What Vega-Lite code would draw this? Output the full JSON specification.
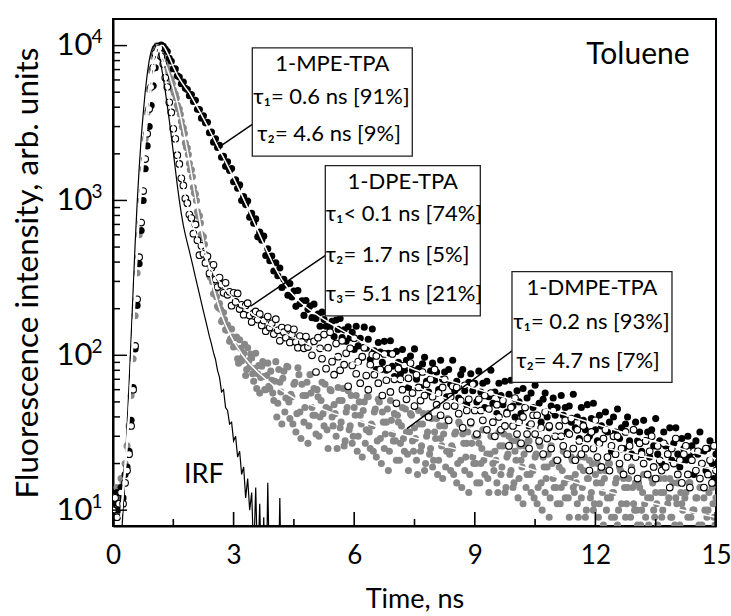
{"width":603,"height":507,"autosize":{"type":"none"},"padding":{"left":113,"top":19,"right":15,"bottom":90},"background":"white",
"config":{"view":{"stroke":"#000","strokeWidth":2},"axis":{"grid":false,"domainColor":"#000","labelColor":"#000","titleColor":"#000","labelFont":"Lato","titleFont":"Lato","titleFontWeight":"normal","labelOverlap":false,"labelFlush":false},"point":{"opacity":1,"size":50},"text":{"font":"Lato","baseline":"alphabetic","color":"#000"}},
"datasets":{
"b":[{"x":0,"y":11},{"x":0.05,"y":9},{"x":0.1,"y":13},{"x":0.15,"y":10},{"x":0.2,"y":14},{"x":0.25,"y":12},{"x":0.3,"y":17},{"x":0.35,"y":19},{"x":0.4,"y":24},{"x":0.45,"y":38},{"x":0.5,"y":62},{"x":0.55,"y":110},{"x":0.6,"y":210},{"x":0.65,"y":390},{"x":0.7,"y":640},{"x":0.75,"y":1000},{"x":0.8,"y":1600},{"x":0.85,"y":2250},{"x":0.9,"y":3000},{"x":0.95,"y":4100},{"x":1,"y":5500},{"x":1.05,"y":7200},{"x":1.1,"y":8700},{"x":1.15,"y":9700},{"x":1.2,"y":10100},{"x":1.25,"y":9900},{"x":1.3,"y":9500},{"x":1.35,"y":9150},{"x":1.4,"y":8280},{"x":1.45,"y":7930},{"x":1.5,"y":7080},{"x":1.55,"y":7070},{"x":1.6,"y":6390},{"x":1.65,"y":6260},{"x":1.7,"y":5670},{"x":1.75,"y":5820},{"x":1.8,"y":5300},{"x":1.85,"y":5200},{"x":1.9,"y":4750},{"x":1.95,"y":4830},{"x":2,"y":4360},{"x":2.05,"y":4430},{"x":2.1,"y":3880},{"x":2.15,"y":3860},{"x":2.2,"y":3400},{"x":2.25,"y":3520},{"x":2.3,"y":3170},{"x":2.35,"y":3200},{"x":2.4,"y":2740},{"x":2.45,"y":2770},{"x":2.5,"y":2380},{"x":2.55,"y":2500},{"x":2.6,"y":2200},{"x":2.65,"y":2270},{"x":2.7,"y":1900},{"x":2.75,"y":1930},{"x":2.8,"y":1660},{"x":2.85,"y":1780},{"x":2.9,"y":1560},{"x":2.95,"y":1610},{"x":3,"y":1320},{"x":3.05,"y":1360},{"x":3.1,"y":1200},{"x":3.15,"y":1260},{"x":3.2,"y":1000},{"x":3.25,"y":1060},{"x":3.3,"y":940},{"x":3.35,"y":990},{"x":3.4,"y":780},{"x":3.45,"y":825},{"x":3.5,"y":713},{"x":3.55,"y":760},{"x":3.6,"y":582},{"x":3.65,"y":624},{"x":3.7,"y":554},{"x":3.75,"y":588},{"x":3.8,"y":441},{"x":3.85,"y":488},{"x":3.9,"y":408},{"x":3.95,"y":437},{"x":4,"y":350},{"x":4.05,"y":396},{"x":4.1,"y":326},{"x":4.15,"y":366},{"x":4.2,"y":274},{"x":4.25,"y":310},{"x":4.3,"y":285},{"x":4.35,"y":244},{"x":4.4,"y":291},{"x":4.45,"y":238},{"x":4.5,"y":260},{"x":4.55,"y":207},{"x":4.6,"y":262},{"x":4.65,"y":215},{"x":4.7,"y":225},{"x":4.75,"y":181},{"x":4.8,"y":226},{"x":4.85,"y":198},{"x":4.9,"y":208},{"x":4.95,"y":175},{"x":5,"y":214},{"x":5.05,"y":173},{"x":5.1,"y":185},{"x":5.15,"y":154},{"x":5.2,"y":190},{"x":5.25,"y":170},{"x":5.3,"y":154},{"x":5.35,"y":190},{"x":5.4,"y":153},{"x":5.45,"y":166},{"x":5.5,"y":132},{"x":5.55,"y":169},{"x":5.6,"y":147},{"x":5.65,"y":173},{"x":5.7,"y":130},{"x":5.75,"y":146},{"x":5.8,"y":123},{"x":5.85,"y":153},{"x":5.9,"y":130},{"x":5.95,"y":141},{"x":6,"y":109},{"x":6.05,"y":154},{"x":6.1,"y":115},{"x":6.15,"y":129},{"x":6.2,"y":97},{"x":6.25,"y":152},{"x":6.3,"y":111},{"x":6.35,"y":127},{"x":6.4,"y":94},{"x":6.45,"y":148},{"x":6.5,"y":107},{"x":6.55,"y":81},{"x":6.6,"y":121},{"x":6.65,"y":105},{"x":6.7,"y":90},{"x":6.75,"y":123},{"x":6.8,"y":80},{"x":6.85,"y":103},{"x":6.9,"y":124},{"x":6.95,"y":85},{"x":7,"y":73},{"x":7.05,"y":106},{"x":7.1,"y":90},{"x":7.15,"y":76},{"x":7.2,"y":109},{"x":7.25,"y":80},{"x":7.3,"y":93},{"x":7.35,"y":62},{"x":7.4,"y":99},{"x":7.45,"y":80},{"x":7.5,"y":110},{"x":7.55,"y":70},{"x":7.6,"y":82},{"x":7.65,"y":62},{"x":7.7,"y":88},{"x":7.75,"y":97},{"x":7.8,"y":68},{"x":7.85,"y":58},{"x":7.9,"y":79},{"x":7.95,"y":89},{"x":8,"y":69},{"x":8.05,"y":78},{"x":8.1,"y":60},{"x":8.15,"y":93},{"x":8.2,"y":70},{"x":8.25,"y":78},{"x":8.3,"y":54},{"x":8.35,"y":81},{"x":8.4,"y":65},{"x":8.45,"y":93},{"x":8.5,"y":59},{"x":8.55,"y":68},{"x":8.6,"y":53},{"x":8.65,"y":75},{"x":8.7,"y":81},{"x":8.75,"y":59},{"x":8.8,"y":48},{"x":8.85,"y":67},{"x":8.9,"y":76},{"x":8.95,"y":59},{"x":9,"y":66},{"x":9.05,"y":50},{"x":9.1,"y":79},{"x":9.15,"y":58},{"x":9.2,"y":66},{"x":9.25,"y":46},{"x":9.3,"y":68},{"x":9.35,"y":54},{"x":9.4,"y":80},{"x":9.45,"y":49},{"x":9.5,"y":58},{"x":9.55,"y":42},{"x":9.6,"y":66},{"x":9.65,"y":55},{"x":9.7,"y":48},{"x":9.75,"y":68},{"x":9.8,"y":43},{"x":9.85,"y":56},{"x":9.9,"y":69},{"x":9.95,"y":47},{"x":10,"y":40},{"x":10.05,"y":59},{"x":10.1,"y":50},{"x":10.15,"y":42},{"x":10.2,"y":61},{"x":10.25,"y":46},{"x":10.3,"y":53},{"x":10.35,"y":35},{"x":10.4,"y":57},{"x":10.45,"y":46},{"x":10.5,"y":64},{"x":10.55,"y":41},{"x":10.6,"y":49},{"x":10.65,"y":37},{"x":10.7,"y":52},{"x":10.75,"y":57},{"x":10.8,"y":40},{"x":10.85,"y":34},{"x":10.9,"y":47},{"x":10.95,"y":53},{"x":11,"y":41},{"x":11.05,"y":46},{"x":11.1,"y":35},{"x":11.15,"y":55},{"x":11.2,"y":41},{"x":11.25,"y":46},{"x":11.3,"y":32},{"x":11.35,"y":47},{"x":11.4,"y":37},{"x":11.45,"y":56},{"x":11.5,"y":34},{"x":11.55,"y":40},{"x":11.6,"y":29},{"x":11.65,"y":46},{"x":11.7,"y":38},{"x":11.75,"y":33},{"x":11.8,"y":48},{"x":11.85,"y":30},{"x":11.9,"y":39},{"x":11.95,"y":49},{"x":12,"y":33},{"x":12.05,"y":28},{"x":12.1,"y":41},{"x":12.15,"y":35},{"x":12.2,"y":29},{"x":12.25,"y":43},{"x":12.3,"y":32},{"x":12.35,"y":37},{"x":12.4,"y":24},{"x":12.45,"y":40},{"x":12.5,"y":32},{"x":12.55,"y":45},{"x":12.6,"y":29},{"x":12.65,"y":34},{"x":12.7,"y":25},{"x":12.75,"y":36},{"x":12.8,"y":40},{"x":12.85,"y":28},{"x":12.9,"y":23},{"x":12.95,"y":33},{"x":13,"y":37},{"x":13.05,"y":28},{"x":13.1,"y":32},{"x":13.15,"y":24},{"x":13.2,"y":38},{"x":13.25,"y":28},{"x":13.3,"y":32},{"x":13.35,"y":22},{"x":13.4,"y":33},{"x":13.45,"y":26},{"x":13.5,"y":39},{"x":13.55,"y":23},{"x":13.6,"y":28},{"x":13.65,"y":20},{"x":13.7,"y":32},{"x":13.75,"y":26},{"x":13.8,"y":23},{"x":13.85,"y":34},{"x":13.9,"y":21},{"x":13.95,"y":27},{"x":14,"y":34},{"x":14.05,"y":23},{"x":14.1,"y":19},{"x":14.15,"y":29},{"x":14.2,"y":25},{"x":14.25,"y":21},{"x":14.3,"y":30},{"x":14.35,"y":22},{"x":14.4,"y":26},{"x":14.45,"y":17},{"x":14.5,"y":28},{"x":14.55,"y":23},{"x":14.6,"y":32},{"x":14.65,"y":20},{"x":14.7,"y":24},{"x":14.75,"y":18},{"x":14.8,"y":25},{"x":14.85,"y":28},{"x":14.9,"y":20},{"x":14.95,"y":16},{"x":15,"y":23}],
"o":[{"x":0,"y":10},{"x":0.05,"y":12},{"x":0.1,"y":9},{"x":0.15,"y":11},{"x":0.2,"y":13},{"x":0.25,"y":11},{"x":0.3,"y":15},{"x":0.35,"y":18},{"x":0.4,"y":23},{"x":0.45,"y":35},{"x":0.5,"y":60},{"x":0.55,"y":115},{"x":0.6,"y":230},{"x":0.65,"y":430},{"x":0.7,"y":720},{"x":0.75,"y":1150},{"x":0.8,"y":1850},{"x":0.85,"y":2700},{"x":0.9,"y":3900},{"x":0.95,"y":5400},{"x":1,"y":7200},{"x":1.05,"y":8900},{"x":1.1,"y":9800},{"x":1.15,"y":9600},{"x":1.2,"y":8500},{"x":1.25,"y":7600},{"x":1.3,"y":6200},{"x":1.35,"y":5400},{"x":1.4,"y":4300},{"x":1.45,"y":3700},{"x":1.5,"y":2900},{"x":1.55,"y":2500},{"x":1.6,"y":1960},{"x":1.65,"y":1720},{"x":1.7,"y":1390},{"x":1.75,"y":1250},{"x":1.8,"y":1030},{"x":1.85,"y":960},{"x":1.9,"y":810},{"x":1.95,"y":770},{"x":2,"y":610},{"x":2.05,"y":700},{"x":2.1,"y":554},{"x":2.15,"y":443},{"x":2.2,"y":509},{"x":2.25,"y":452},{"x":2.3,"y":395},{"x":2.35,"y":436},{"x":2.4,"y":338},{"x":2.45,"y":368},{"x":2.5,"y":384},{"x":2.55,"y":309},{"x":2.6,"y":276},{"x":2.65,"y":318},{"x":2.7,"y":285},{"x":2.75,"y":253},{"x":2.8,"y":294},{"x":2.85,"y":246},{"x":2.9,"y":257},{"x":2.95,"y":209},{"x":3,"y":253},{"x":3.05,"y":221},{"x":3.1,"y":251},{"x":3.15,"y":199},{"x":3.2,"y":212},{"x":3.25,"y":183},{"x":3.3,"y":210},{"x":3.35,"y":217},{"x":3.4,"y":181},{"x":3.45,"y":164},{"x":3.5,"y":187},{"x":3.55,"y":192},{"x":3.6,"y":170},{"x":3.65,"y":185},{"x":3.7,"y":156},{"x":3.75,"y":168},{"x":3.8,"y":143},{"x":3.85,"y":178},{"x":3.9,"y":151},{"x":3.95,"y":161},{"x":4,"y":137},{"x":4.05,"y":171},{"x":4.1,"y":145},{"x":4.15,"y":124},{"x":4.2,"y":151},{"x":4.25,"y":141},{"x":4.3,"y":130},{"x":4.35,"y":150},{"x":4.4,"y":121},{"x":4.45,"y":136},{"x":4.5,"y":147},{"x":4.55,"y":122},{"x":4.6,"y":112},{"x":4.65,"y":133},{"x":4.7,"y":122},{"x":4.75,"y":111},{"x":4.8,"y":132},{"x":4.85,"y":113},{"x":4.9,"y":121},{"x":4.95,"y":100},{"x":5,"y":123},{"x":5.05,"y":78},{"x":5.1,"y":130},{"x":5.15,"y":111},{"x":5.2,"y":95},{"x":5.25,"y":136},{"x":5.3,"y":82},{"x":5.35,"y":112},{"x":5.4,"y":141},{"x":5.45,"y":91},{"x":5.5,"y":75},{"x":5.55,"y":119},{"x":5.6,"y":98},{"x":5.65,"y":80},{"x":5.7,"y":124},{"x":5.75,"y":87},{"x":5.8,"y":103},{"x":5.85,"y":63},{"x":5.9,"y":111},{"x":5.95,"y":86},{"x":6,"y":129},{"x":6.05,"y":76},{"x":6.1,"y":91},{"x":6.15,"y":66},{"x":6.2,"y":98},{"x":6.25,"y":112},{"x":6.3,"y":74},{"x":6.35,"y":60},{"x":6.4,"y":87},{"x":6.45,"y":101},{"x":6.5,"y":75},{"x":6.55,"y":99},{"x":6.6,"y":66},{"x":6.65,"y":81},{"x":6.7,"y":55},{"x":6.75,"y":102},{"x":6.8,"y":69},{"x":6.85,"y":82},{"x":6.9,"y":58},{"x":6.95,"y":102},{"x":7,"y":70},{"x":7.05,"y":49},{"x":7.1,"y":82},{"x":7.15,"y":70},{"x":7.2,"y":60},{"x":7.25,"y":86},{"x":7.3,"y":52},{"x":7.35,"y":71},{"x":7.4,"y":89},{"x":7.45,"y":57},{"x":7.5,"y":47},{"x":7.55,"y":75},{"x":7.6,"y":62},{"x":7.65,"y":51},{"x":7.7,"y":78},{"x":7.75,"y":55},{"x":7.8,"y":65},{"x":7.85,"y":40},{"x":7.9,"y":70},{"x":7.95,"y":54},{"x":8,"y":81},{"x":8.05,"y":48},{"x":8.1,"y":57},{"x":8.15,"y":41},{"x":8.2,"y":62},{"x":8.25,"y":70},{"x":8.3,"y":47},{"x":8.35,"y":38},{"x":8.4,"y":54},{"x":8.45,"y":63},{"x":8.5,"y":47},{"x":8.55,"y":62},{"x":8.6,"y":42},{"x":8.65,"y":51},{"x":8.7,"y":34},{"x":8.75,"y":64},{"x":8.8,"y":44},{"x":8.85,"y":52},{"x":8.9,"y":37},{"x":8.95,"y":65},{"x":9,"y":44},{"x":9.05,"y":31},{"x":9.1,"y":52},{"x":9.15,"y":44},{"x":9.2,"y":38},{"x":9.25,"y":55},{"x":9.3,"y":33},{"x":9.35,"y":45},{"x":9.4,"y":57},{"x":9.45,"y":37},{"x":9.5,"y":30},{"x":9.55,"y":48},{"x":9.6,"y":40},{"x":9.65,"y":33},{"x":9.7,"y":51},{"x":9.75,"y":35},{"x":9.8,"y":42},{"x":9.85,"y":26},{"x":9.9,"y":46},{"x":9.95,"y":35},{"x":10,"y":53},{"x":10.05,"y":31},{"x":10.1,"y":37},{"x":10.15,"y":27},{"x":10.2,"y":40},{"x":10.25,"y":46},{"x":10.3,"y":31},{"x":10.35,"y":25},{"x":10.4,"y":36},{"x":10.45,"y":41},{"x":10.5,"y":31},{"x":10.55,"y":41},{"x":10.6,"y":28},{"x":10.65,"y":34},{"x":10.7,"y":23},{"x":10.75,"y":43},{"x":10.8,"y":29},{"x":10.85,"y":35},{"x":10.9,"y":25},{"x":10.95,"y":44},{"x":11,"y":30},{"x":11.05,"y":21},{"x":11.1,"y":35},{"x":11.15,"y":30},{"x":11.2,"y":26},{"x":11.25,"y":38},{"x":11.3,"y":23},{"x":11.35,"y":31},{"x":11.4,"y":39},{"x":11.45,"y":25},{"x":11.5,"y":21},{"x":11.55,"y":33},{"x":11.6,"y":28},{"x":11.65,"y":23},{"x":11.7,"y":35},{"x":11.75,"y":25},{"x":11.8,"y":29},{"x":11.85,"y":18},{"x":11.9,"y":32},{"x":11.95,"y":25},{"x":12,"y":38},{"x":12.05,"y":22},{"x":12.1,"y":27},{"x":12.15,"y":19},{"x":12.2,"y":29},{"x":12.25,"y":33},{"x":12.3,"y":22},{"x":12.35,"y":18},{"x":12.4,"y":26},{"x":12.45,"y":30},{"x":12.5,"y":23},{"x":12.55,"y":30},{"x":12.6,"y":20},{"x":12.65,"y":25},{"x":12.7,"y":17},{"x":12.75,"y":32},{"x":12.8,"y":22},{"x":12.85,"y":26},{"x":12.9,"y":18},{"x":12.95,"y":33},{"x":13,"y":22},{"x":13.05,"y":16},{"x":13.1,"y":27},{"x":13.15,"y":23},{"x":13.2,"y":20},{"x":13.25,"y":28},{"x":13.3,"y":17},{"x":13.35,"y":24},{"x":13.4,"y":30},{"x":13.45,"y":19},{"x":13.5,"y":16},{"x":13.55,"y":26},{"x":13.6,"y":21},{"x":13.65,"y":18},{"x":13.7,"y":27},{"x":13.75,"y":19},{"x":13.8,"y":23},{"x":13.85,"y":14},{"x":13.9,"y":25},{"x":13.95,"y":20},{"x":14,"y":29},{"x":14.05,"y":17},{"x":14.1,"y":21},{"x":14.15,"y":15},{"x":14.2,"y":23},{"x":14.25,"y":26},{"x":14.3,"y":17},{"x":14.35,"y":14},{"x":14.4,"y":21},{"x":14.45,"y":24},{"x":14.5,"y":18},{"x":14.55,"y":24},{"x":14.6,"y":16},{"x":14.65,"y":20},{"x":14.7,"y":14},{"x":14.75,"y":25},{"x":14.8,"y":17},{"x":14.85,"y":21},{"x":14.9,"y":15},{"x":14.95,"y":26},{"x":15,"y":18}],
"g":[{"x":0,"y":12},{"x":0.05,"y":10},{"x":0.1,"y":14},{"x":0.15,"y":12},{"x":0.2,"y":16},{"x":0.25,"y":15},{"x":0.3,"y":20},{"x":0.35,"y":26},{"x":0.4,"y":35},{"x":0.45,"y":55},{"x":0.5,"y":95},{"x":0.55,"y":180},{"x":0.6,"y":340},{"x":0.65,"y":600},{"x":0.7,"y":1000},{"x":0.75,"y":1600},{"x":0.8,"y":2500},{"x":0.85,"y":3700},{"x":0.9,"y":5200},{"x":0.95,"y":6900},{"x":1,"y":8500},{"x":1.05,"y":9600},{"x":1.1,"y":10000},{"x":1.15,"y":9700},{"x":1.2,"y":9000},{"x":1.225,"y":8600},{"x":1.25,"y":8520},{"x":1.275,"y":8100},{"x":1.3,"y":7550},{"x":1.325,"y":7280},{"x":1.35,"y":7120},{"x":1.375,"y":6830},{"x":1.4,"y":6260},{"x":1.425,"y":6060},{"x":1.45,"y":6030},{"x":1.475,"y":5660},{"x":1.5,"y":5190},{"x":1.525,"y":4940},{"x":1.55,"y":4850},{"x":1.575,"y":4580},{"x":1.6,"y":4120},{"x":1.625,"y":3900},{"x":1.65,"y":3900},{"x":1.675,"y":3600},{"x":1.7,"y":3230},{"x":1.725,"y":2990},{"x":1.75,"y":2940},{"x":1.775,"y":2710},{"x":1.8,"y":2350},{"x":1.825,"y":2210},{"x":1.85,"y":2180},{"x":1.875,"y":1980},{"x":1.9,"y":1730},{"x":1.925,"y":1580},{"x":1.95,"y":1580},{"x":1.975,"y":1420},{"x":2,"y":1210},{"x":2.025,"y":1120},{"x":2.05,"y":1100},{"x":2.075,"y":1000},{"x":2.1,"y":846},{"x":2.125,"y":790},{"x":2.15,"y":795},{"x":2.175,"y":715},{"x":2.2,"y":602},{"x":2.225,"y":572},{"x":2.25,"y":583},{"x":2.275,"y":522},{"x":2.3,"y":447},{"x":2.325,"y":423},{"x":2.35,"y":437},{"x":2.375,"y":390},{"x":2.4,"y":327},{"x":2.425,"y":318},{"x":2.45,"y":326},{"x":2.475,"y":299},{"x":2.5,"y":250},{"x":2.525,"y":248},{"x":2.55,"y":265},{"x":2.575,"y":239},{"x":2.6,"y":207},{"x":2.625,"y":203},{"x":2.65,"y":216},{"x":2.675,"y":198},{"x":2.7,"y":165},{"x":2.725,"y":169},{"x":2.75,"y":189},{"x":2.775,"y":170},{"x":2.8,"y":146},{"x":2.825,"y":145},{"x":2.85,"y":157},{"x":2.875,"y":148},{"x":2.9,"y":123},{"x":2.925,"y":128},{"x":2.95,"y":148},{"x":2.975,"y":131},{"x":3,"y":113},{"x":3.05,"y":130},{"x":3.1,"y":95},{"x":3.15,"y":126},{"x":3.2,"y":92},{"x":3.25,"y":103},{"x":3.3,"y":74},{"x":3.35,"y":112},{"x":3.4,"y":84},{"x":3.45,"y":96},{"x":3.5,"y":68},{"x":3.55,"y":103},{"x":3.6,"y":76},{"x":3.65,"y":57},{"x":3.7,"y":85},{"x":3.75,"y":73},{"x":3.8,"y":60},{"x":3.85,"y":89},{"x":3.9,"y":61},{"x":3.95,"y":69},{"x":4,"y":51},{"x":4.05,"y":91},{"x":4.1,"y":49},{"x":4.15,"y":67},{"x":4.2,"y":36},{"x":4.25,"y":79},{"x":4.3,"y":53},{"x":4.35,"y":84},{"x":4.4,"y":39},{"x":4.45,"y":54},{"x":4.5,"y":65},{"x":4.55,"y":32},{"x":4.6,"y":83},{"x":4.65,"y":43},{"x":4.7,"y":65},{"x":4.75,"y":37},{"x":4.8,"y":55},{"x":4.85,"y":27},{"x":4.9,"y":75},{"x":4.95,"y":46},{"x":5,"y":61},{"x":5.05,"y":31},{"x":5.1,"y":54},{"x":5.15,"y":40},{"x":5.2,"y":67},{"x":5.25,"y":35},{"x":5.3,"y":46},{"x":5.35,"y":25},{"x":5.4,"y":60},{"x":5.45,"y":40},{"x":5.5,"y":48},{"x":5.55,"y":30},{"x":5.6,"y":62},{"x":5.65,"y":34},{"x":5.7,"y":51},{"x":5.75,"y":26},{"x":5.8,"y":43},{"x":5.85,"y":59},{"x":5.9,"y":35},{"x":5.95,"y":27},{"x":6,"y":46},{"x":6.05,"y":55},{"x":6.1,"y":30},{"x":6.15,"y":41},{"x":6.2,"y":22},{"x":6.25,"y":50},{"x":6.3,"y":33},{"x":6.35,"y":54},{"x":6.4,"y":25},{"x":6.45,"y":35},{"x":6.5,"y":43},{"x":6.55,"y":22},{"x":6.6,"y":52},{"x":6.65,"y":29},{"x":6.7,"y":43},{"x":6.75,"y":25},{"x":6.8,"y":37},{"x":6.85,"y":18},{"x":6.9,"y":51},{"x":6.95,"y":31},{"x":7,"y":42},{"x":7.05,"y":21},{"x":7.1,"y":37},{"x":7.15,"y":27},{"x":7.2,"y":46},{"x":7.25,"y":24},{"x":7.3,"y":32},{"x":7.35,"y":18},{"x":7.4,"y":42},{"x":7.45,"y":28},{"x":7.5,"y":34},{"x":7.55,"y":21},{"x":7.6,"y":44},{"x":7.65,"y":24},{"x":7.7,"y":36},{"x":7.75,"y":18},{"x":7.8,"y":30},{"x":7.85,"y":42},{"x":7.9,"y":25},{"x":7.95,"y":19},{"x":8,"y":32},{"x":8.05,"y":39},{"x":8.1,"y":21},{"x":8.15,"y":29},{"x":8.2,"y":16},{"x":8.25,"y":35},{"x":8.3,"y":24},{"x":8.35,"y":38},{"x":8.4,"y":18},{"x":8.45,"y":25},{"x":8.5,"y":31},{"x":8.55,"y":15},{"x":8.6,"y":37},{"x":8.65,"y":21},{"x":8.7,"y":31},{"x":8.75,"y":18},{"x":8.8,"y":27},{"x":8.85,"y":13},{"x":8.9,"y":36},{"x":8.95,"y":22},{"x":9,"y":30},{"x":9.05,"y":15},{"x":9.1,"y":27},{"x":9.15,"y":20},{"x":9.2,"y":33},{"x":9.25,"y":17},{"x":9.3,"y":23},{"x":9.35,"y":13},{"x":9.4,"y":30},{"x":9.45,"y":20},{"x":9.5,"y":24},{"x":9.55,"y":15},{"x":9.6,"y":32},{"x":9.65,"y":17},{"x":9.7,"y":26},{"x":9.75,"y":13},{"x":9.8,"y":22},{"x":9.85,"y":30},{"x":9.9,"y":18},{"x":9.95,"y":14},{"x":10,"y":24},{"x":10.05,"y":28},{"x":10.1,"y":16},{"x":10.15,"y":21},{"x":10.2,"y":11},{"x":10.25,"y":26},{"x":10.3,"y":17},{"x":10.35,"y":28},{"x":10.4,"y":13},{"x":10.45,"y":18},{"x":10.5,"y":22},{"x":10.55,"y":11},{"x":10.6,"y":27},{"x":10.65,"y":15},{"x":10.7,"y":22},{"x":10.75,"y":13},{"x":10.8,"y":19},{"x":10.85,"y":9},{"x":10.9,"y":26},{"x":10.95,"y":16},{"x":11,"y":21},{"x":11.05,"y":11},{"x":11.1,"y":19},{"x":11.15,"y":14},{"x":11.2,"y":24},{"x":11.25,"y":12},{"x":11.3,"y":16},{"x":11.35,"y":9},{"x":11.4,"y":22},{"x":11.45,"y":14},{"x":11.5,"y":17},{"x":11.55,"y":11},{"x":11.6,"y":22},{"x":11.65,"y":12},{"x":11.7,"y":18},{"x":11.75,"y":9},{"x":11.8,"y":16},{"x":11.85,"y":21},{"x":11.9,"y":13},{"x":11.95,"y":10},{"x":12,"y":17},{"x":12.05,"y":20},{"x":12.1,"y":11},{"x":12.15,"y":15},{"x":12.2,"y":8},{"x":12.25,"y":18},{"x":12.3,"y":12},{"x":12.35,"y":20},{"x":12.4,"y":9},{"x":12.45,"y":13},{"x":12.5,"y":15},{"x":12.55,"y":8},{"x":12.6,"y":19},{"x":12.65,"y":11},{"x":12.7,"y":16},{"x":12.75,"y":9},{"x":12.8,"y":14},{"x":12.85,"y":7},{"x":12.9,"y":19},{"x":12.95,"y":11},{"x":13,"y":15},{"x":13.05,"y":8},{"x":13.1,"y":14},{"x":13.15,"y":10},{"x":13.2,"y":17},{"x":13.25,"y":9},{"x":13.3,"y":12},{"x":13.35,"y":6},{"x":13.4,"y":16},{"x":13.45,"y":10},{"x":13.5,"y":13},{"x":13.55,"y":8},{"x":13.6,"y":16},{"x":13.65,"y":9},{"x":13.7,"y":13},{"x":13.75,"y":7},{"x":13.8,"y":11},{"x":13.85,"y":16},{"x":13.9,"y":9},{"x":13.95,"y":7},{"x":14,"y":12},{"x":14.05,"y":15},{"x":14.1,"y":8},{"x":14.15,"y":11},{"x":14.2,"y":6},{"x":14.25,"y":13},{"x":14.3,"y":9},{"x":14.35,"y":15},{"x":14.4,"y":7},{"x":14.45,"y":10},{"x":14.5,"y":12},{"x":14.55,"y":6},{"x":14.6,"y":14},{"x":14.65,"y":8},{"x":14.7,"y":12},{"x":14.75,"y":7},{"x":14.8,"y":10},{"x":14.85,"y":5},{"x":14.9,"y":14},{"x":14.95,"y":9},{"x":15,"y":12},
{"x":3.025,"y":114},{"x":3.075,"y":131},{"x":3.125,"y":89},{"x":3.175,"y":111},{"x":3.225,"y":97},{"x":3.275,"y":118},{"x":3.325,"y":81},{"x":3.375,"y":92},{"x":3.425,"y":102},{"x":3.475,"y":76},{"x":3.525,"y":82},{"x":3.575,"y":61},{"x":3.625,"y":86},{"x":3.675,"y":72},{"x":3.725,"y":91},{"x":3.775,"y":60},{"x":3.825,"y":74},{"x":3.875,"y":63},{"x":3.925,"y":79},{"x":3.975,"y":57},{"x":4.025,"y":68},{"x":4.075,"y":40},{"x":4.125,"y":81},{"x":4.175,"y":58},{"x":4.225,"y":71},{"x":4.275,"y":43},{"x":4.325,"y":85},{"x":4.375,"y":50},{"x":4.425,"y":56},{"x":4.475,"y":36},{"x":4.525,"y":67},{"x":4.575,"y":42},{"x":4.625,"y":75},{"x":4.675,"y":29},{"x":4.725,"y":55},{"x":4.775,"y":46},{"x":4.825,"y":67},{"x":4.875,"y":35},{"x":4.925,"y":57},{"x":4.975,"y":41},{"x":5.025,"y":41},{"x":5.075,"y":60},{"x":5.125,"y":30},{"x":5.175,"y":51},{"x":5.225,"y":42},{"x":5.275,"y":65},{"x":5.325,"y":33},{"x":5.375,"y":45},{"x":5.425,"y":59},{"x":5.475,"y":35},{"x":5.525,"y":42},{"x":5.575,"y":25},{"x":5.625,"y":51},{"x":5.675,"y":37},{"x":5.725,"y":61},{"x":5.775,"y":28},{"x":5.825,"y":46},{"x":5.875,"y":33},{"x":5.925,"y":55},{"x":5.975,"y":30},{"x":6.025,"y":41},{"x":6.075,"y":24},{"x":6.125,"y":50},{"x":6.175,"y":36},{"x":6.225,"y":44},{"x":6.275,"y":27},{"x":6.325,"y":54},{"x":6.375,"y":32},{"x":6.425,"y":36},{"x":6.475,"y":24},{"x":6.525,"y":45},{"x":6.575,"y":28},{"x":6.625,"y":50},{"x":6.675,"y":20},{"x":6.725,"y":37},{"x":6.775,"y":31},{"x":6.825,"y":45},{"x":6.875,"y":24},{"x":6.925,"y":38},{"x":6.975,"y":28},{"x":7.025,"y":28},{"x":7.075,"y":41},{"x":7.125,"y":21},{"x":7.175,"y":35},{"x":7.225,"y":29},{"x":7.275,"y":45},{"x":7.325,"y":23},{"x":7.375,"y":32},{"x":7.425,"y":41},{"x":7.475,"y":24},{"x":7.525,"y":29},{"x":7.575,"y":17},{"x":7.625,"y":36},{"x":7.675,"y":26},{"x":7.725,"y":42},{"x":7.775,"y":20},{"x":7.825,"y":32},{"x":7.875,"y":23},{"x":7.925,"y":39},{"x":7.975,"y":21},{"x":8.025,"y":29},{"x":8.075,"y":17},{"x":8.125,"y":35},{"x":8.175,"y":26},{"x":8.225,"y":31},{"x":8.275,"y":19},{"x":8.325,"y":39},{"x":8.375,"y":23},{"x":8.425,"y":26},{"x":8.475,"y":17},{"x":8.525,"y":32},{"x":8.575,"y":20},{"x":8.625,"y":36},{"x":8.675,"y":14},{"x":8.725,"y":27},{"x":8.775,"y":22},{"x":8.825,"y":32},{"x":8.875,"y":17},{"x":8.925,"y":27},{"x":8.975,"y":20},{"x":9.025,"y":20},{"x":9.075,"y":30},{"x":9.125,"y":15},{"x":9.175,"y":25},{"x":9.225,"y":21},{"x":9.275,"y":33},{"x":9.325,"y":16},{"x":9.375,"y":23},{"x":9.425,"y":30},{"x":9.475,"y":18},{"x":9.525,"y":21},{"x":9.575,"y":13},{"x":9.625,"y":26},{"x":9.675,"y":19},{"x":9.725,"y":31},{"x":9.775,"y":14},{"x":9.825,"y":23},{"x":9.875,"y":17},{"x":9.925,"y":28},{"x":9.975,"y":15},{"x":10.025,"y":21},{"x":10.075,"y":12},{"x":10.125,"y":26},{"x":10.175,"y":19},{"x":10.225,"y":23},{"x":10.275,"y":14},{"x":10.325,"y":28},{"x":10.375,"y":17},{"x":10.425,"y":19},{"x":10.475,"y":12},{"x":10.525,"y":23},{"x":10.575,"y":14},{"x":10.625,"y":26},{"x":10.675,"y":10},{"x":10.725,"y":19},{"x":10.775,"y":16},{"x":10.825,"y":23},{"x":10.875,"y":12},{"x":10.925,"y":20},{"x":10.975,"y":14},{"x":11.025,"y":14},{"x":11.075,"y":21},{"x":11.125,"y":11},{"x":11.175,"y":18},{"x":11.225,"y":15},{"x":11.275,"y":23},{"x":11.325,"y":12},{"x":11.375,"y":16},{"x":11.425,"y":21},{"x":11.475,"y":13},{"x":11.525,"y":15},{"x":11.575,"y":9},{"x":11.625,"y":19},{"x":11.675,"y":14},{"x":11.725,"y":22},{"x":11.775,"y":10},{"x":11.825,"y":16},{"x":11.875,"y":12},{"x":11.925,"y":20},{"x":11.975,"y":11},{"x":12.025,"y":15},{"x":12.075,"y":9},{"x":12.125,"y":18},{"x":12.175,"y":13},{"x":12.225,"y":16},{"x":12.275,"y":10},{"x":12.325,"y":20},{"x":12.375,"y":12},{"x":12.425,"y":13},{"x":12.475,"y":9},{"x":12.525,"y":16},{"x":12.575,"y":10},{"x":12.625,"y":18},{"x":12.675,"y":7},{"x":12.725,"y":14},{"x":12.775,"y":11},{"x":12.825,"y":16},{"x":12.875,"y":9},{"x":12.925,"y":14},{"x":12.975,"y":10},{"x":13.025,"y":10},{"x":13.075,"y":15},{"x":13.125,"y":8},{"x":13.175,"y":13},{"x":13.225,"y":11},{"x":13.275,"y":17},{"x":13.325,"y":8},{"x":13.375,"y":12},{"x":13.425,"y":15},{"x":13.475,"y":9},{"x":13.525,"y":11},{"x":13.575,"y":7},{"x":13.625,"y":13},{"x":13.675,"y":10},{"x":13.725,"y":16},{"x":13.775,"y":7},{"x":13.825,"y":12},{"x":13.875,"y":9},{"x":13.925,"y":15},{"x":13.975,"y":8},{"x":14.025,"y":11},{"x":14.075,"y":6},{"x":14.125,"y":13},{"x":14.175,"y":10},{"x":14.225,"y":12},{"x":14.275,"y":7},{"x":14.325,"y":15},{"x":14.375,"y":9},{"x":14.425,"y":10},{"x":14.475,"y":7},{"x":14.525,"y":12},{"x":14.575,"y":8},{"x":14.625,"y":14},{"x":14.675,"y":5},{"x":14.725,"y":10},{"x":14.775,"y":9},{"x":14.825,"y":13},{"x":14.875,"y":7},{"x":14.925,"y":11},{"x":14.975,"y":8}],
"i":[{"x":0.15,"y":3},{"x":0.2,"y":6},{"x":0.25,"y":10},{"x":0.3,"y":18},{"x":0.35,"y":35},{"x":0.4,"y":65},{"x":0.45,"y":130},{"x":0.5,"y":260},{"x":0.55,"y":520},{"x":0.6,"y":950},{"x":0.65,"y":1600},{"x":0.7,"y":2500},{"x":0.75,"y":3600},{"x":0.8,"y":5000},{"x":0.85,"y":6500},{"x":0.9,"y":8000},{"x":0.95,"y":9200},{"x":1,"y":9900},{"x":1.05,"y":10000},{"x":1.1,"y":9500},{"x":1.15,"y":8600},{"x":1.2,"y":7400},{"x":1.25,"y":6200},{"x":1.3,"y":5100},{"x":1.35,"y":4100},{"x":1.4,"y":3300},{"x":1.45,"y":2600},{"x":1.5,"y":2050},{"x":1.55,"y":1600},{"x":1.6,"y":1250},{"x":1.65,"y":1000},{"x":1.7,"y":820},{"x":1.75,"y":690},{"x":1.8,"y":600},{"x":1.85,"y":530},{"x":1.9,"y":470},{"x":1.95,"y":415},{"x":2,"y":365},{"x":2.05,"y":320},{"x":2.1,"y":282},{"x":2.15,"y":248},{"x":2.2,"y":218},{"x":2.25,"y":192},{"x":2.3,"y":170},{"x":2.35,"y":150},{"x":2.4,"y":132},{"x":2.45,"y":118},{"x":2.5,"y":104},{"x":2.55,"y":94},{"x":2.6,"y":80},{"x":2.65,"y":72},{"x":2.7,"y":58},{"x":2.75,"y":60},{"x":2.8,"y":46},{"x":2.85,"y":44},{"x":2.9,"y":36},{"x":2.95,"y":37},{"x":3,"y":28},{"x":3.05,"y":30},{"x":3.1,"y":22},{"x":3.15,"y":24},{"x":3.2,"y":17},{"x":3.25,"y":19},{"x":3.3,"y":12},{"x":3.35,"y":16},{"x":3.4,"y":10},{"x":3.45,"y":13},{"x":3.5,"y":5},{"x":3.55,"y":14},{"x":3.6,"y":4},{"x":3.65,"y":11},{"x":3.7,"y":3},{"x":3.75,"y":9},{"x":3.8,"y":2},{"x":3.85,"y":15},{"x":3.9,"y":3},{"x":3.95,"y":2},{"x":4,"y":8},{"x":4.05,"y":2},{"x":4.1,"y":2},{"x":4.15,"y":12},{"x":4.2,"y":2},{"x":4.3,"y":1}],
"f":[{"s":"a","x":0.2,"y":9},{"s":"a","x":0.3,"y":18},{"s":"a","x":0.4,"y":40},{"s":"a","x":0.45,"y":70},{"s":"a","x":0.5,"y":130},{"s":"a","x":0.55,"y":250},{"s":"a","x":0.6,"y":450},{"s":"a","x":0.65,"y":750},{"s":"a","x":0.7,"y":1150},{"s":"a","x":0.75,"y":1700},{"s":"a","x":0.8,"y":2400},{"s":"a","x":0.85,"y":3200},{"s":"a","x":0.9,"y":4200},{"s":"a","x":0.95,"y":5300},{"s":"a","x":1,"y":6500},{"s":"a","x":1.05,"y":7700},{"s":"a","x":1.1,"y":8800},{"s":"a","x":1.15,"y":9600},{"s":"a","x":1.2,"y":10050},{"s":"a","x":1.25,"y":10000},{"s":"a","x":1.3,"y":9550},{"s":"a","x":1.4,"y":8450},{"s":"a","x":1.5,"y":7300},{"s":"a","x":1.6,"y":6450},{"s":"a","x":1.7,"y":5850},{"s":"a","x":1.8,"y":5350},{"s":"a","x":1.9,"y":4950},{"s":"a","x":2,"y":4450},{"s":"a","x":2.2,"y":3580},{"s":"a","x":2.4,"y":2850},{"s":"a","x":2.6,"y":2240},{"s":"a","x":2.8,"y":1780},{"s":"a","x":3,"y":1400},{"s":"a","x":3.2,"y":1090},{"s":"a","x":3.4,"y":840},{"s":"a","x":3.6,"y":640},{"s":"a","x":3.8,"y":490},{"s":"a","x":4,"y":380},{"s":"a","x":4.2,"y":308},{"s":"a","x":4.4,"y":260},{"s":"a","x":4.6,"y":228},{"s":"a","x":4.8,"y":205},{"s":"a","x":5,"y":188},{"s":"a","x":5.4,"y":161},{"s":"a","x":5.8,"y":140},{"s":"a","x":6.2,"y":121},{"s":"a","x":6.6,"y":105},{"s":"a","x":7,"y":92},{"s":"a","x":7.5,"y":81},{"s":"a","x":8,"y":73},{"s":"a","x":9,"y":61},{"s":"a","x":10,"y":51},{"s":"a","x":11,"y":43},{"s":"a","x":12,"y":36},{"s":"a","x":13,"y":30},{"s":"a","x":14,"y":25.5},{"s":"a","x":15,"y":21.5},{"s":"b","x":0.2,"y":9},{"s":"b","x":0.3,"y":17},{"s":"b","x":0.4,"y":40},{"s":"b","x":0.45,"y":75},{"s":"b","x":0.5,"y":140},{"s":"b","x":0.55,"y":270},{"s":"b","x":0.6,"y":500},{"s":"b","x":0.65,"y":850},{"s":"b","x":0.7,"y":1350},{"s":"b","x":0.75,"y":2050},{"s":"b","x":0.8,"y":2950},{"s":"b","x":0.85,"y":4000},{"s":"b","x":0.9,"y":5300},{"s":"b","x":0.95,"y":6600},{"s":"b","x":1,"y":7900},{"s":"b","x":1.05,"y":9000},{"s":"b","x":1.1,"y":9700},{"s":"b","x":1.15,"y":9500},{"s":"b","x":1.2,"y":8600},{"s":"b","x":1.3,"y":6300},{"s":"b","x":1.4,"y":4400},{"s":"b","x":1.5,"y":2950},{"s":"b","x":1.6,"y":2000},{"s":"b","x":1.7,"y":1420},{"s":"b","x":1.8,"y":1060},{"s":"b","x":1.9,"y":830},{"s":"b","x":2,"y":670},{"s":"b","x":2.2,"y":480},{"s":"b","x":2.4,"y":375},{"s":"b","x":2.6,"y":310},{"s":"b","x":2.8,"y":265},{"s":"b","x":3,"y":232},{"s":"b","x":3.3,"y":198},{"s":"b","x":3.6,"y":175},{"s":"b","x":4,"y":151},{"s":"b","x":4.5,"y":130},{"s":"b","x":5,"y":113},{"s":"b","x":5.5,"y":100},{"s":"b","x":6,"y":89},{"s":"b","x":7,"y":71},{"s":"b","x":8,"y":56},{"s":"b","x":9,"y":45},{"s":"b","x":10,"y":36.5},{"s":"b","x":11,"y":30.5},{"s":"b","x":12,"y":26},{"s":"b","x":13,"y":22.8},{"s":"b","x":14,"y":20.3},{"s":"b","x":15,"y":18.2},{"s":"c","x":0.2,"y":10},{"s":"c","x":0.3,"y":20},{"s":"c","x":0.4,"y":45},{"s":"c","x":0.45,"y":80},{"s":"c","x":0.5,"y":150},{"s":"c","x":0.55,"y":290},{"s":"c","x":0.6,"y":530},{"s":"c","x":0.65,"y":900},{"s":"c","x":0.7,"y":1400},{"s":"c","x":0.75,"y":2100},{"s":"c","x":0.8,"y":3000},{"s":"c","x":0.85,"y":4100},{"s":"c","x":0.9,"y":5500},{"s":"c","x":0.95,"y":6900},{"s":"c","x":1,"y":8200},{"s":"c","x":1.05,"y":9300},{"s":"c","x":1.1,"y":9900},{"s":"c","x":1.15,"y":9700},{"s":"c","x":1.2,"y":9000},{"s":"c","x":1.3,"y":7700},{"s":"c","x":1.4,"y":6450},{"s":"c","x":1.5,"y":5300},{"s":"c","x":1.6,"y":4250},{"s":"c","x":1.7,"y":3300},{"s":"c","x":1.8,"y":2450},{"s":"c","x":1.9,"y":1780},{"s":"c","x":2,"y":1260},{"s":"c","x":2.1,"y":890},{"s":"c","x":2.2,"y":640},{"s":"c","x":2.3,"y":470},{"s":"c","x":2.4,"y":352},{"s":"c","x":2.5,"y":272},{"s":"c","x":2.6,"y":220},{"s":"c","x":2.7,"y":183},{"s":"c","x":2.8,"y":157},{"s":"c","x":2.9,"y":138},{"s":"c","x":3,"y":123},{"s":"c","x":3.2,"y":102},{"s":"c","x":3.4,"y":88},{"s":"c","x":3.6,"y":78},{"s":"c","x":3.8,"y":70},{"s":"c","x":4,"y":64},{"s":"c","x":4.5,"y":53},{"s":"c","x":5,"y":47},{"s":"c","x":5.5,"y":42},{"s":"c","x":6,"y":38.5},{"s":"c","x":7,"y":32},{"s":"c","x":8,"y":27},{"s":"c","x":9,"y":23},{"s":"c","x":10,"y":19.7},{"s":"c","x":11,"y":16.5},{"s":"c","x":12,"y":13.8},{"s":"c","x":13,"y":11.8},{"s":"c","x":14,"y":10.2},{"s":"c","x":15,"y":9}],
"r":[{"x":3.465,"x2":7.445,"y":9667,"y2":1934},{"x":5.281,"x2":9.137,"y":1676,"y2":179.7},{"x":9.925,"x2":13.905,"y":347.5,"y2":66.8}],
"s":[{"x":3.465,"y":3102,"x2":2.627,"y2":2199},{"x":5.286,"y":442,"x2":3.423,"y2":207.4},{"x":9.925,"y":106.7,"x2":7.313,"y2":33.6}],
"k":[{"x":0,"x2":0.04,"y":7.9,"y2":9.73},{"x":2.98,"x2":3.02,"y":7.9,"y2":9.73},{"x":5.98,"x2":6.02,"y":7.9,"y2":9.73},{"x":8.98,"x2":9.02,"y":7.9,"y2":9.73},{"x":11.98,"x2":12.02,"y":7.9,"y2":9.73},{"x":14.96,"x2":15,"y":7.9,"y2":9.73},{"x":1.48,"x2":1.52,"y":7.9,"y2":8.77},{"x":4.48,"x2":4.52,"y":7.9,"y2":8.77},{"x":7.48,"x2":7.52,"y":7.9,"y2":8.77},{"x":10.48,"x2":10.52,"y":7.9,"y2":8.77},{"x":13.48,"x2":13.52,"y":7.9,"y2":8.77},{"x":0,"x2":0.348,"y":9.89,"y2":10.11},{"x":0,"x2":0.348,"y":98.9,"y2":101.1},{"x":0,"x2":0.348,"y":989,"y2":1011},{"x":0,"x2":0.348,"y":9890,"y2":10110},{"x":0,"x2":0.174,"y":19.78,"y2":20.22},{"x":0,"x2":0.174,"y":29.67,"y2":30.33},{"x":0,"x2":0.174,"y":39.56,"y2":40.44},{"x":0,"x2":0.174,"y":49.45,"y2":50.55},{"x":0,"x2":0.174,"y":59.34,"y2":60.66},{"x":0,"x2":0.174,"y":69.23,"y2":70.77},{"x":0,"x2":0.174,"y":79.12,"y2":80.88},{"x":0,"x2":0.174,"y":89.01,"y2":90.99},{"x":0,"x2":0.174,"y":197.8,"y2":202.2},{"x":0,"x2":0.174,"y":296.7,"y2":303.3},{"x":0,"x2":0.174,"y":395.6,"y2":404.4},{"x":0,"x2":0.174,"y":494.5,"y2":505.5},{"x":0,"x2":0.174,"y":593.4,"y2":606.6},{"x":0,"x2":0.174,"y":692.3,"y2":707.7},{"x":0,"x2":0.174,"y":791.2,"y2":808.8},{"x":0,"x2":0.174,"y":890.1,"y2":909.9},{"x":0,"x2":0.174,"y":1978,"y2":2022},{"x":0,"x2":0.174,"y":2967,"y2":3033},{"x":0,"x2":0.174,"y":3956,"y2":4044},{"x":0,"x2":0.174,"y":4945,"y2":5055},{"x":0,"x2":0.174,"y":5934,"y2":6066},{"x":0,"x2":0.174,"y":6923,"y2":7077},{"x":0,"x2":0.174,"y":7912,"y2":8088},{"x":0,"x2":0.174,"y":8901,"y2":9099}],
"c":[{"x":5.455,"y":6812,"text":"1-MPE-TPA"},{"x":7.209,"y":1188,"text":"1-DPE-TPA"},{"x":11.915,"y":246,"text":"1-DMPE-TPA"}],
"l":[{"x":3.49,"y":4168,"text":"τ₁= 0.6 ns [91%]"},{"x":3.59,"y":2424,"text":"τ₂= 4.6 ns [9%]"},{"x":5.294,"y":733.5,"text":"τ₁< 0.1 ns [74%]"},{"x":5.294,"y":402.8,"text":"τ₂= 1.7 ns [5%]"},{"x":5.294,"y":223.3,"text":"τ₃= 5.1 ns [21%]"},{"x":9.958,"y":146.8,"text":"τ₁= 0.2 ns [93%]"},{"x":10.03,"y":83.4,"text":"τ₂= 4.7 ns [7%]"}],
"q":[{"x":1.766,"y":14.9,"text":"IRF"}],
"t":[{"x":14.343,"y":7634,"text":"Toluene"}]},
"encoding":{"x":{"field":"x","type":"quantitative","scale":{"domain":[0,15],"nice":false,"zero":false},"axis":null},"y":{"field":"y","type":"quantitative","scale":{"type":"log","domain":[7.9,14850],"nice":false},"axis":null}},
"resolve":{"axis":{"x":"independent","y":"independent"}},
"layer":[
{"data":{"name":"g"},"mark":{"type":"point","filled":true,"color":"#888888","clip":true},"encoding":{"x":{"field":"x","type":"quantitative","scale":{"domain":[0,15],"nice":false,"zero":false},"axis":{"orient":"bottom","values":[0,3,6,9,12,15],"format":"d","ticks":false,"domainWidth":2,"labelFontSize":26,"labelPadding":16,"title":"Time, ns","titleFontSize":27,"titlePadding":18}},"y":{"field":"y","type":"quantitative","scale":{"type":"log","domain":[7.9,14850],"nice":false},"axis":{"orient":"left","values":[10,100,1000,10000],"ticks":false,"domainWidth":2,"labelExpr":"'10'","labelFontSize":31,"labelPadding":21,"title":"Fluorescence intensity, arb. units","titleFontSize":31.5,"titlePadding":12}}}},
{"data":{"name":"b"},"mark":{"type":"point","filled":true,"color":"#000000","clip":true}},
{"data":{"name":"o"},"mark":{"type":"point","filled":true,"fill":"#ffffff","stroke":"#000000","strokeWidth":1.1,"size":44,"clip":true}},
{"data":{"name":"i"},"mark":{"type":"line","color":"#000000","strokeWidth":1.2,"clip":true},"encoding":{"y":{"field":"y","type":"quantitative","scale":{"type":"log","domain":[7.9,14850],"nice":false},"axis":{"orient":"left","values":[10,100,1000,10000],"ticks":false,"domain":false,"labelExpr":"datum.value == 10 ? '1' : datum.value == 100 ? '2' : datum.value == 1000 ? '3' : '4'","labelFontSize":19,"labelPadding":11,"labelOffset":-9,"title":null}}}},
{"data":{"name":"f"},"mark":{"type":"line","color":"#ffffff","strokeWidth":1.5,"clip":true},"encoding":{"detail":{"field":"s","type":"nominal"}}},
{"data":{"name":"s"},"mark":{"type":"rule","color":"#000000","strokeWidth":1.4},"encoding":{"x2":{"field":"x2"},"y2":{"field":"y2"}}},
{"data":{"name":"k"},"mark":{"type":"rect","fill":"#000000"},"encoding":{"x2":{"field":"x2"},"y2":{"field":"y2"}}},
{"data":{"name":"r"},"mark":{"type":"rect","fill":"#ffffff","stroke":"#222222","strokeWidth":1.3},"encoding":{"x2":{"field":"x2"},"y2":{"field":"y2"}}},
{"data":{"name":"c"},"mark":{"type":"text","fontSize":22,"align":"center"},"encoding":{"text":{"field":"text"}}},
{"data":{"name":"l"},"mark":{"type":"text","fontSize":22,"align":"left"},"encoding":{"text":{"field":"text"}}},
{"data":{"name":"q"},"mark":{"type":"text","fontSize":27,"align":"left"},"encoding":{"text":{"field":"text"}}},
{"data":{"name":"t"},"mark":{"type":"text","fontSize":30,"align":"right"},"encoding":{"text":{"field":"text"}}}
]}
